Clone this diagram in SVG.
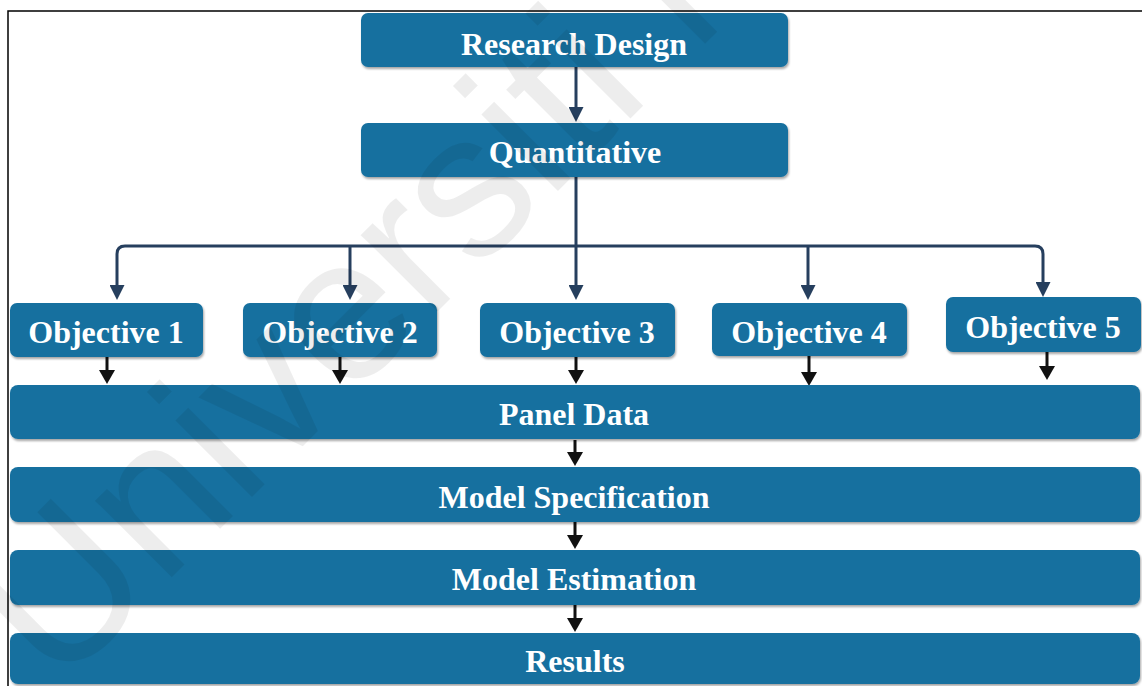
<svg xmlns="http://www.w3.org/2000/svg" width="1142" height="686" viewBox="0 0 1142 686">
  <style>
    .box { fill: #17709f; filter: url(#shadow); }
    .label { fill: #ffffff; font-family: "Liberation Serif", "Times New Roman", serif; font-weight: bold; font-size: 32px; text-anchor: middle; }
    .tree { fill: none; stroke: #263f5e; stroke-width: 3; }
    .flow { fill: none; stroke: #111111; stroke-width: 3; }
    .mark { fill: #000000; fill-opacity: 0.07; font-family: "Liberation Sans", Arial, sans-serif; font-size: 205px; }
  </style>
  <defs>
    <filter id="shadow" x="-5%" y="-20%" width="110%" height="150%">
      <feDropShadow dx="1" dy="2" stdDeviation="1.2" flood-color="#000000" flood-opacity="0.35"/>
    </filter>
    <marker id="headTree" markerUnits="userSpaceOnUse" viewBox="0 0 15 15" markerWidth="15" markerHeight="15" refX="5" refY="7.5" orient="auto">
      <path d="M0,0 L15,7.5 L0,15 z" fill="#263f5e"/>
    </marker>
    <marker id="headFlow" markerUnits="userSpaceOnUse" viewBox="0 0 14 16" markerWidth="14" markerHeight="16" refX="4" refY="8" orient="auto">
      <path d="M0,0 L14,8 L0,16 z" fill="#111111"/>
    </marker>
  </defs>

  <rect x="8" y="11" width="1140" height="690" fill="#ffffff" stroke="#000000" stroke-width="1.5"/>

  <!-- connectors -->
  <g id="connectors">
    <path class="tree" d="M576,67 V112" marker-end="url(#headTree)"/>
    <path class="tree" d="M576,177 V246"/>
    <path class="tree" d="M576,246 H125 Q117,246 117,254 V290" marker-end="url(#headTree)"/>
    <path class="tree" d="M576,246 H1035 Q1043,246 1043,254 V287" marker-end="url(#headTree)"/>
    <path class="tree" d="M350,246 V290" marker-end="url(#headTree)"/>
    <path class="tree" d="M576,246 V290" marker-end="url(#headTree)"/>
    <path class="tree" d="M808,246 V290" marker-end="url(#headTree)"/>
    <path class="flow" d="M107,357 V374" marker-end="url(#headFlow)"/>
    <path class="flow" d="M340,357 V374" marker-end="url(#headFlow)"/>
    <path class="flow" d="M576,357 V374" marker-end="url(#headFlow)"/>
    <path class="flow" d="M809,356 V376" marker-end="url(#headFlow)"/>
    <path class="flow" d="M1047,352 V370" marker-end="url(#headFlow)"/>
    <path class="flow" d="M575,440 V456" marker-end="url(#headFlow)"/>
    <path class="flow" d="M575,522 V539" marker-end="url(#headFlow)"/>
    <path class="flow" d="M575,605 V622" marker-end="url(#headFlow)"/>
  </g>

  <g id="research-design">
    <rect class="box" x="361" y="13" width="427" height="54" rx="7"/>
    <text class="label" x="574" y="55">Research Design</text>
  </g>
  <g id="quantitative">
    <rect class="box" x="361" y="123" width="427" height="54" rx="7"/>
    <text class="label" x="575" y="163">Quantitative</text>
  </g>
  <g id="objective-1">
    <rect class="box" x="10" y="303" width="193" height="54" rx="7"/>
    <text class="label" x="106" y="343">Objective 1</text>
  </g>
  <g id="objective-2">
    <rect class="box" x="243" y="303" width="194" height="54" rx="7"/>
    <text class="label" x="340" y="343">Objective 2</text>
  </g>
  <g id="objective-3">
    <rect class="box" x="480" y="303" width="195" height="54" rx="7"/>
    <text class="label" x="577" y="343">Objective 3</text>
  </g>
  <g id="objective-4">
    <rect class="box" x="712" y="303" width="195" height="53" rx="7"/>
    <text class="label" x="809" y="343">Objective 4</text>
  </g>
  <g id="objective-5">
    <rect class="box" x="946" y="297" width="195" height="55" rx="7"/>
    <text class="label" x="1043" y="338">Objective 5</text>
  </g>
  <g id="panel-data">
    <rect class="box" x="10" y="385" width="1130" height="54" rx="8"/>
    <text class="label" x="574" y="425">Panel Data</text>
  </g>
  <g id="model-specification">
    <rect class="box" x="10" y="467" width="1130" height="55" rx="8"/>
    <text class="label" x="574" y="508">Model Specification</text>
  </g>
  <g id="model-estimation">
    <rect class="box" x="10" y="550" width="1130" height="55" rx="8"/>
    <text class="label" x="574" y="590">Model Estimation</text>
  </g>
  <g id="results">
    <rect class="box" x="10" y="633" width="1130" height="51" rx="8"/>
    <text class="label" x="575" y="672">Results</text>
  </g>

  <!-- faint diagonal watermark -->
  <text class="mark" transform="translate(57,692) rotate(-45)">Universiti Malaya</text>
</svg>
